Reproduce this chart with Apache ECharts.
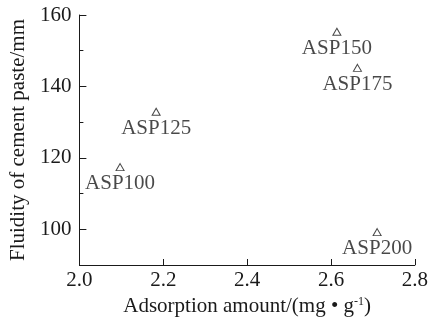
<!DOCTYPE html>
<html><head><meta charset="utf-8">
<script src="https://cdn.jsdelivr.net/npm/echarts@6/dist/echarts.min.js"></script>
<style>html,body{margin:0;padding:0;background:#fff}#c{width:431px;height:323px}</style>
</head><body><div id="c"></div>
<script>
var names = ['ASP100', 'ASP125', 'ASP150', 'ASP175', 'ASP200'];
var adsorption = [2.097, 2.183, 2.614, 2.663, 2.710];
var fluidity = [117.4, 132.9, 155.3, 145.2, 99.2];
var xTicks = [2.0, 2.2, 2.4, 2.6, 2.8];
var yTicks = [100, 120, 140, 160];
var yMinorTicks = [110, 130, 150];

var font = 'Liberation Serif';
var ink = '#1a1a1a';
var fs = 21;
var chart = echarts.init(document.getElementById('c'), null, {renderer: 'canvas'});
chart.setOption({
  animation: false,
  backgroundColor: '#fff',
  grid: {left: 79, right: 14, top: 15, bottom: 58, containLabel: false},
  xAxis: {
    type: 'value', min: xTicks[0], max: xTicks[xTicks.length - 1], interval: 0.2,
    name: 'Adsorption amount/(mg \u2022 g{sup|-1})',
    nameLocation: 'middle', nameGap: 25,
    nameTextStyle: {fontFamily: font, fontSize: fs, color: ink,
      rich: {sup: {fontFamily: font, fontSize: 12, color: ink, verticalAlign: 'top', padding: [0, 0, 9, 0]}}},
    axisLine: {show: true, onZero: false, lineStyle: {color: ink, width: 1}},
    axisTick: {show: true, inside: true, length: 6, lineStyle: {color: ink}},
    splitLine: {show: false},
    axisLabel: {fontFamily: font, fontSize: fs, color: ink, margin: 5,
      formatter: function (v) { return v.toFixed(1); }}
  },
  yAxis: [{
    type: 'value', min: 90, max: 160, interval: 10,
    name: 'Fluidity of cement paste/mm',
    nameLocation: 'middle', nameGap: 48,
    nameTextStyle: {fontFamily: font, fontSize: fs, color: ink},
    axisLine: {show: true, onZero: false, lineStyle: {color: ink, width: 1}},
    axisTick: {show: true, inside: true, length: 7, customValues: yTicks, lineStyle: {color: ink}},
    splitLine: {show: false},
    axisLabel: {fontFamily: font, fontSize: fs, color: ink, margin: 8, customValues: yTicks}
  }, {
    type: 'value', min: 90, max: 160, interval: 10, position: 'left',
    axisLine: {show: false},
    axisTick: {show: true, inside: true, length: 4, customValues: yMinorTicks, lineStyle: {color: ink}},
    splitLine: {show: false},
    axisLabel: {show: false}
  }],
  series: [{
    type: 'scatter',
    yAxisIndex: 0,
    symbol: 'triangle',
    symbolSize: [8, 7],
    itemStyle: {color: '#fff', borderColor: ink, borderWidth: 1},
    label: {show: true, position: 'bottom', distance: 2,
      fontFamily: font, fontSize: fs, color: ink,
      formatter: function (p) { return names[p.dataIndex]; }},
    data: adsorption.map(function (x, i) { return [x, fluidity[i]]; })
  }]
});
</script></body></html>
